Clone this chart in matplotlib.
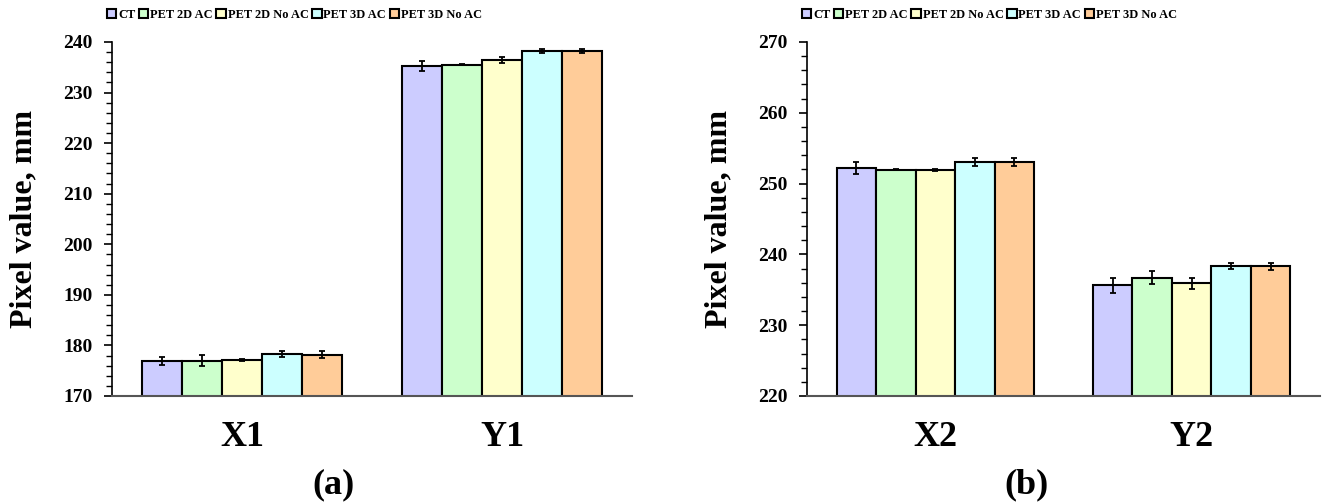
import matplotlib

matplotlib.use("Agg")
import matplotlib.pyplot as plt
import numpy as np
from matplotlib.ticker import MultipleLocator

SERIES = ["CT", "PET 2D AC", "PET 2D No AC", "PET 3D AC", "PET 3D No AC"]
COLORS = ["#CCCCFF", "#CCFFCC", "#FFFFCC", "#CCFFFF", "#FFCC99"]

CATS_A = ["X1", "Y1"]
MEAN_A = [[176.9, 235.2], [177.0, 235.5], [177.2, 236.4], [178.3, 238.25], [178.2, 238.25]]
ERR_A = [[0.8, 0.95], [1.05, 0.15], [0.2, 0.65], [0.6, 0.4], [0.6, 0.45]]

CATS_B = ["X2", "Y2"]
MEAN_B = [[252.2, 235.65], [251.95, 236.7], [251.9, 235.9], [253.05, 238.4], [253.05, 238.35]]
ERR_B = [[0.9, 1.05], [0.1, 0.9], [0.1, 0.75], [0.5, 0.45], [0.5, 0.5]]

plt.rcParams["font.family"] = ["Liberation Serif", "DejaVu Serif"]
plt.rcParams["font.weight"] = "bold"


def draw_panel(ax, cats, means, errs, ylim):
    x = np.arange(len(cats))
    width = 0.154
    for i, (name, color) in enumerate(zip(SERIES, COLORS)):
        off = (i - 2) * width
        ax.bar(x + off, means[i], width, color=color, edgecolor="black",
               linewidth=1.5, label=name, zorder=2)
        ax.errorbar(x + off, means[i], yerr=errs[i], fmt="none", ecolor="black",
                    elinewidth=1.3, capsize=2.5, capthick=1.3, zorder=3)
    ax.set_xlim(-0.5, 1.5)
    ax.set_ylim(*ylim)
    ax.yaxis.set_major_locator(MultipleLocator(10))
    ax.yaxis.set_minor_locator(MultipleLocator(2))
    ax.spines["top"].set_visible(False)
    ax.spines["right"].set_visible(False)
    ax.spines["bottom"].set_color("#555555")
    ax.spines["bottom"].set_linewidth(1.5)
    ax.spines["left"].set_linewidth(1.2)
    ax.set_xticks(x)
    ax.set_xticklabels(cats, fontsize=26, fontweight="bold")
    ax.tick_params(axis="x", length=0, pad=18)
    ax.tick_params(axis="y", which="major", length=6, width=1.2, labelsize=14,
                   pad=8)
    ax.tick_params(axis="y", which="minor", length=4, width=1.0)
    ax.set_ylabel("Pixel value, mm", fontsize=23, fontweight="bold", labelpad=18)
    ax.legend(ncol=5, loc="lower left", bbox_to_anchor=(-0.01, 1.06),
              frameon=False, fontsize=8.9, handlelength=0.75, handleheight=0.75,
              handletextpad=0.15, columnspacing=0.3, borderaxespad=0,
              borderpad=0)


fig = plt.figure(figsize=(13.23, 5.04), dpi=100)
ax_a = fig.add_axes([0.0847, 0.2143, 0.393, 0.7024])
ax_b = fig.add_axes([0.610, 0.2143, 0.3877, 0.7024])
draw_panel(ax_a, CATS_A, MEAN_A, ERR_A, (170, 240))
draw_panel(ax_b, CATS_B, MEAN_B, ERR_B, (220, 270))
fig.text(334 / 1323, 1 - 485 / 504, "(a)", fontsize=26, fontweight="bold",
         ha="center", va="center")
fig.text(1027 / 1323, 1 - 485 / 504, "(b)", fontsize=26, fontweight="bold",
         ha="center", va="center")
fig.savefig("out.png", dpi=100)
